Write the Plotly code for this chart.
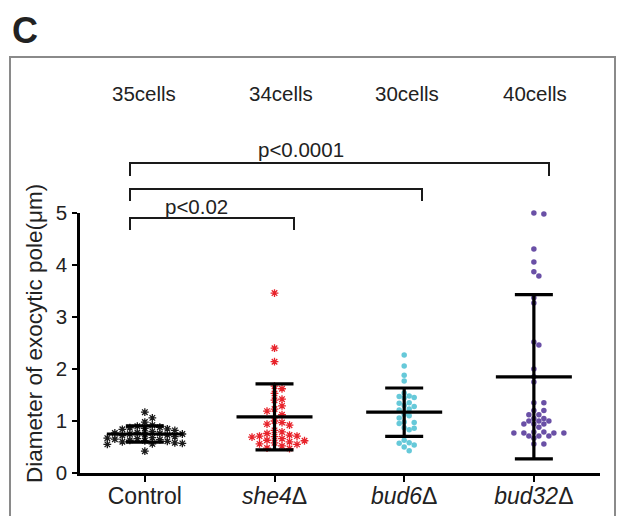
import plotly.graph_objects as go
import numpy as np

categories = ["Control", "<i>she4</i>Δ", "<i>bud6</i>Δ", "<i>bud32</i>Δ"]
cell_labels = ["35cells", "34cells", "30cells", "40cells"]

control = [1.17, 1.06, 0.98, 0.92, 0.90, 0.88, 0.87, 0.86, 0.85, 0.84, 0.82, 0.80,
           0.78, 0.77, 0.76, 0.75, 0.75, 0.74, 0.73, 0.72, 0.70, 0.68, 0.67, 0.66,
           0.65, 0.64, 0.63, 0.62, 0.61, 0.60, 0.58, 0.57, 0.56, 0.55, 0.42]
she4 = [3.46, 2.40, 2.14, 1.67, 1.62, 1.53, 1.42, 1.40, 1.29, 1.23, 1.19, 1.12,
        1.00, 0.97, 0.94, 0.92, 0.82, 0.79, 0.76, 0.73, 0.71, 0.71, 0.70, 0.69,
        0.66, 0.63, 0.62, 0.60, 0.58, 0.56, 0.55, 0.52, 0.48, 0.47]
bud6 = [2.27, 2.06, 1.88, 1.77, 1.54, 1.48, 1.47, 1.45, 1.44, 1.35, 1.34, 1.30,
        1.28, 1.23, 1.21, 1.13, 1.10, 1.06, 0.98, 0.97, 0.95, 0.87, 0.86, 0.83,
        0.63, 0.58, 0.57, 0.54, 0.50, 0.43]
bud32 = [5.00, 4.98, 4.31, 4.06, 3.87, 3.79, 3.37, 3.27, 2.52, 2.46, 2.00, 1.85,
         1.75, 1.35, 1.35, 1.20, 1.20, 1.12, 1.12, 1.05, 1.05, 1.00, 1.00, 1.00,
         0.94, 0.94, 0.94, 0.88, 0.79, 0.79, 0.77, 0.77, 0.77, 0.77, 0.71, 0.71,
         0.71, 0.67, 0.56, 0.56]

means = [0.75, 1.08, 1.17, 1.85]
sds = [0.155, 0.635, 0.465, 1.58]

p_labels = ["p<0.02", "p<0.0001"]

colors = ["#1a1a1a", "#e8232b", "#66c9d9", "#6a50a6"]
symbols = ["asterisk-open", "asterisk-open", "circle", "circle"]

W, H = 617, 516
ML, MR, MT, MB = 80, 17, 213, 43
plot_w = W - ML - MR
plot_h = H - MT - MB
x_range = [-0.5, 3.51]
y_range = [0, 5]
px_per_x = plot_w / (x_range[1] - x_range[0])
px_per_y = plot_h / (y_range[1] - y_range[0])


def beeswarm(vals, step, diam):
    order = np.argsort(vals)[::-1]
    placed = []
    offs = np.zeros(len(vals))
    for i in order:
        y = vals[i] * px_per_y
        k = 0
        while True:
            cand = 0 if k == 0 else ((k + 1) // 2) * step * (1 if k % 2 else -1)
            ok = all((cand - px) ** 2 + (y - py) ** 2 >= diam ** 2 for px, py in placed)
            if ok:
                break
            k += 1
        placed.append((cand, y))
        offs[i] = cand / px_per_x
    return offs


fig = go.Figure()
groups = [control, she4, bud6, bud32]
for gi, vals in enumerate(groups):
    vals = np.array(vals)
    is_ast = symbols[gi].startswith("asterisk")
    xs = gi + (beeswarm(vals, 7.5, 6.0) if is_ast else beeswarm(vals, 5.0, 5.2))
    fig.add_trace(go.Scatter(
        x=xs, y=vals, mode="markers", cliponaxis=False, showlegend=False,
        marker=dict(symbol=symbols[gi], size=6.5 if is_ast else 5.5, color=colors[gi],
                    line=dict(color=colors[gi], width=1.3 if is_ast else 0)),
    ))

# mean lines
half_mean = 38 / px_per_x
mx, my = [], []
for gi, m in enumerate(means):
    mx += [gi - half_mean, gi + half_mean, None]
    my += [m, m, None]
fig.add_trace(go.Scatter(x=mx, y=my, mode="lines", showlegend=False, cliponaxis=False,
                         line=dict(color="black", width=3.2)))

# SD bars
fig.add_trace(go.Scatter(
    x=list(range(4)), y=means, mode="markers", showlegend=False, cliponaxis=False,
    marker=dict(size=1, color="rgba(0,0,0,0)"),
    error_y=dict(type="data", array=sds, visible=True, color="black", thickness=3.2, width=19),
))

shapes = []
shapes.append(dict(type="rect", xref="paper", yref="paper",
                   x0=(10 - ML) / plot_w, x1=(615 - ML) / plot_w,
                   y0=-0.3, y1=(H - MB - 57) / plot_h,
                   line=dict(color="#8a8a8a", width=2), fillcolor="rgba(0,0,0,0)", layer="below"))


def ypaper(px):
    return (H - MB - px) / plot_h


def xdata(px):
    return (px - ML) / px_per_x + x_range[0]


brackets = [(130, 294, 218, 230), (130, 422, 189, 201), (130, 549, 163, 176)]
for x0p, x1p, ytop, ybot in brackets:
    x0, x1 = xdata(x0p), xdata(x1p)
    path = (f"M{x0},{ypaper(ybot)} L{x0},{ypaper(ytop)} L{x1},{ypaper(ytop)} L{x1},{ypaper(ybot)}")
    shapes.append(dict(type="path", xref="x", yref="paper", path=path,
                       line=dict(color="#1a1a1a", width=2)))

annotations = []
cell_x = [144, 281, 407, 535]
for gi, lab in enumerate(cell_labels):
    annotations.append(dict(x=xdata(cell_x[gi]), y=ypaper(93), xref="x", yref="paper", text=lab,
                            xanchor="center", yanchor="middle",
                            showarrow=False, font=dict(size=20.5, color="#222")))
annotations.append(dict(x=xdata(196), y=ypaper(206), xref="x", yref="paper", text=p_labels[0],
                        xanchor="center", yanchor="middle",
                        showarrow=False, font=dict(size=20.5, color="#222")))
annotations.append(dict(x=xdata(301), y=ypaper(149), xref="x", yref="paper", text=p_labels[1],
                        xanchor="center", yanchor="middle",
                        showarrow=False, font=dict(size=20.5, color="#222")))
annotations.append(dict(x=(10 - ML) / plot_w, y=ypaper(30), xref="paper", yref="paper",
                        text="<b>C</b>", showarrow=False, xanchor="left", yanchor="middle",
                        font=dict(size=36, color="#222")))
annotations.append(dict(x=(34 - ML) / plot_w, y=ypaper(334), xref="paper", yref="paper",
                        text="Diameter of exocytic pole(μm)", textangle=-90, showarrow=False,
                        xanchor="center", yanchor="middle",
                        font=dict(size=22.5, color="#222")))

fig.update_layout(
    width=W, height=H,
    margin=dict(l=ML, r=MR, t=MT, b=MB, autoexpand=False),
    paper_bgcolor="white", plot_bgcolor="white",
    font=dict(family="Liberation Sans, Arial, sans-serif", color="#222"),
    shapes=shapes, annotations=annotations,
    xaxis=dict(range=x_range, tickmode="array", tickvals=list(range(4)), ticktext=categories,
               automargin=False, ticklabelstandoff=-5,
               showgrid=False, zeroline=False, showline=True, linecolor="black", linewidth=2.5,
               ticks="outside", ticklen=6, tickwidth=2, tickcolor="black",
               tickfont=dict(size=23, color="#222")),
    yaxis=dict(range=y_range, tickvals=[0, 1, 2, 3, 4, 5], showgrid=False, zeroline=False,
               automargin=False, ticklabelstandoff=1,
               showline=True, linecolor="black", linewidth=2.5,
               ticks="outside", ticklen=5, tickwidth=2, tickcolor="black",
               tickfont=dict(size=20.5, color="#222")),
)

fig.write_html("out.html", config={"displayModeBar": False},
               post_script="document.body.style.margin='0';")
